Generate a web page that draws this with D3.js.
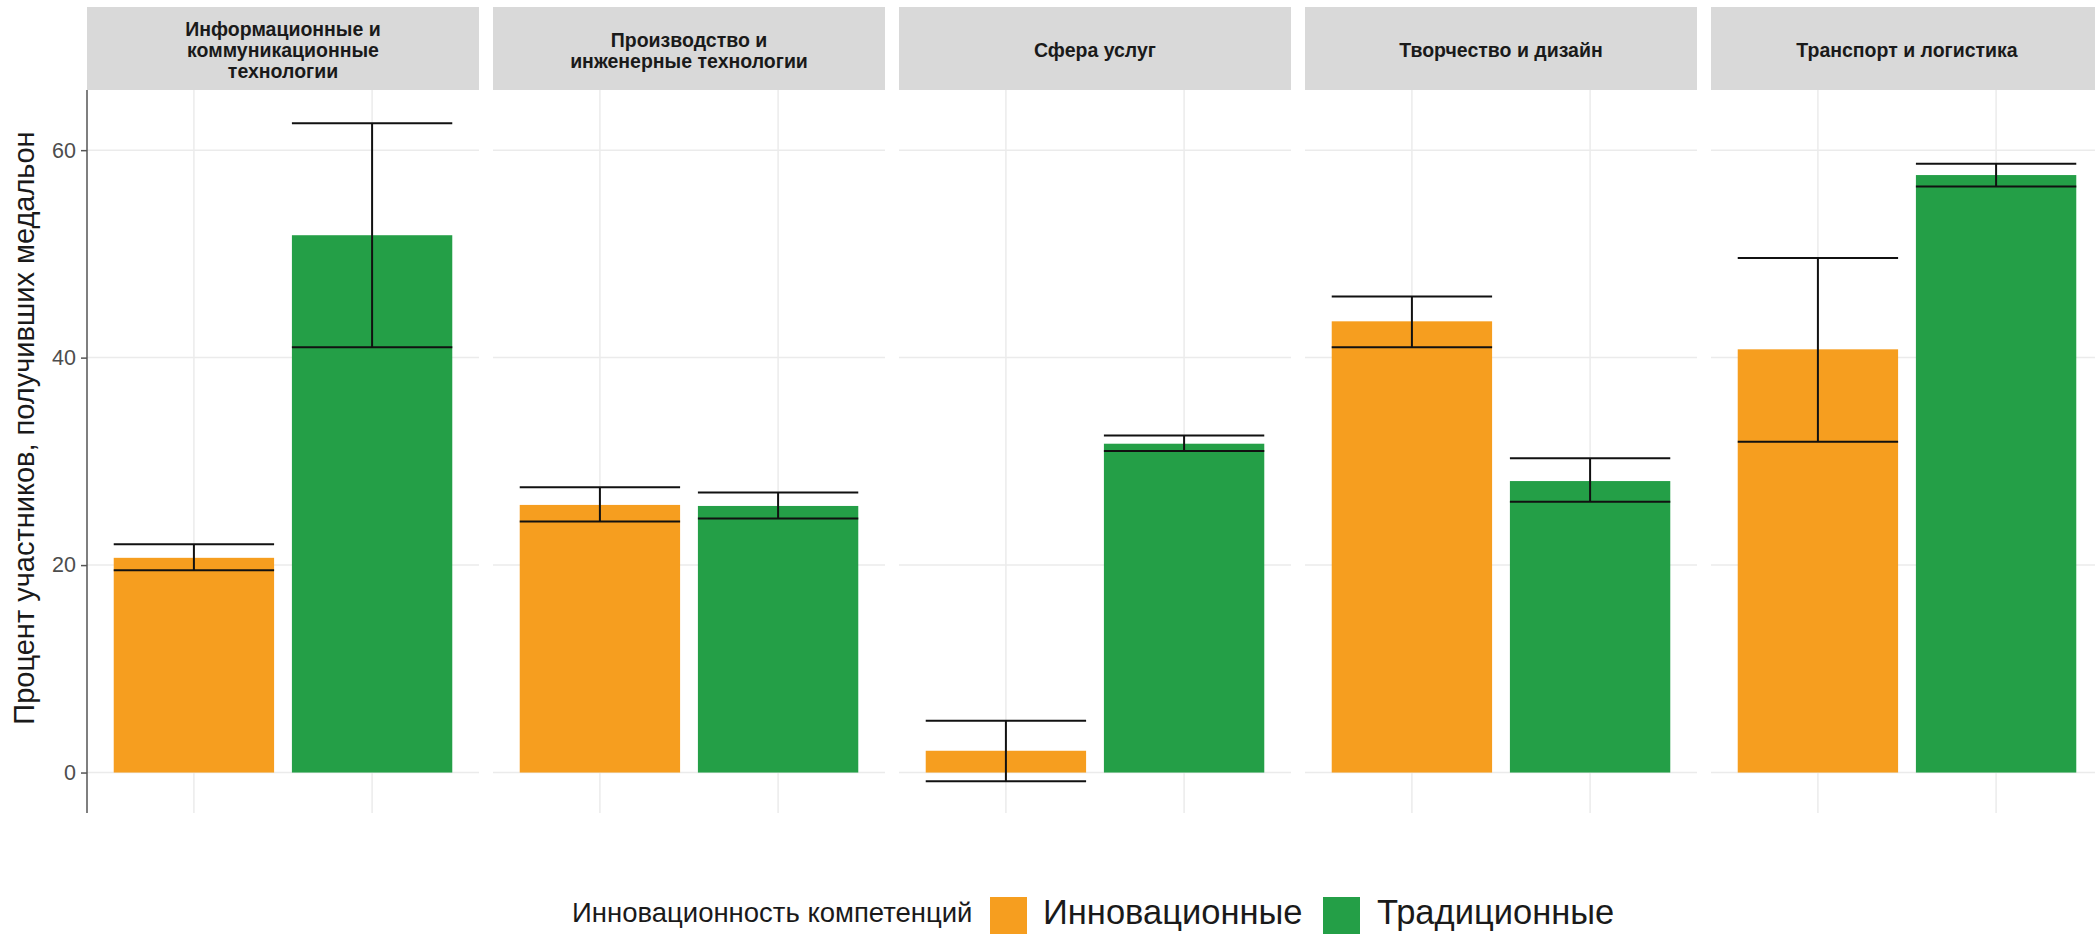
<!DOCTYPE html>
<html><head><meta charset="utf-8">
<script src="https://cdn.jsdelivr.net/npm/d3@7"></script>
<style>body{margin:0;background:#fff}svg{display:block;font-family:"Liberation Sans",Arial,sans-serif}</style>
</head><body>
<svg id="chart" width="2095" height="934"></svg>
<script>
const facets = ["ИКТ","Производство","Сфера услуг","Творчество","Транспорт"];
const facetLabels = [
  ["Информационные и","коммуникационные","технологии"],
  ["Производство и","инженерные технологии"],
  ["Сфера услуг"],
  ["Творчество и дизайн"],
  ["Транспорт и логистика"]
];
const groups = ["Инновационные","Традиционные"];
const colors = ["#F69E1F","#249F47"];
// values per facet: [Инновационные, Традиционные]
const values = [[20.7,51.8],[25.8,25.7],[2.1,31.7],[43.5,28.1],[40.8,57.6]];
const lower  = [[19.5,41.0],[24.2,24.5],[-0.85,31.0],[41.0,26.1],[31.9,56.5]];
const upper  = [[22.0,62.6],[27.5,27.0],[5.0,32.5],[45.9,30.3],[49.6,58.7]];
const yTicks = [0,20,40,60];
const legendTitle = "Инновационность компетенций";
const yTitle = "Процент участников, получивших медальон";

const svg = d3.select("#chart");
const panelTop = 90, panelBottom = 813, stripTop = 7;
const y = d3.scaleLinear().domain([-3.9, 65.8]).range([panelBottom, panelTop]);
const fx = d3.scaleBand().domain(facets).range([87, 2103]).paddingInner(14/406).paddingOuter(0);
const x = d3.scaleBand().domain(groups).range([0, fx.bandwidth()]).paddingInner(0.1).paddingOuter(0.15);

facets.forEach((f, i) => {
  const g = svg.append("g").attr("transform", `translate(${fx(f)},0)`);
  const w = fx.bandwidth();
  g.append("rect").attr("x",0).attr("y",stripTop).attr("width",w).attr("height",panelTop-stripTop).attr("fill","#d9d9d9");
  const lines = facetLabels[i];
  const cy = 50;
  lines.forEach((t, k) => {
    g.append("text").attr("x", w/2).attr("y", cy + (k-(lines.length-1)/2)*21)
      .attr("text-anchor","middle").attr("dominant-baseline","central")
      .attr("font-size",19.5).attr("font-weight","bold").attr("fill","#1a1a1a").text(t);
  });
  g.selectAll(".hg").data(yTicks).join("line")
    .attr("x1",0).attr("x2",w).attr("y1",d=>y(d)).attr("y2",d=>y(d))
    .attr("stroke","#ebebeb").attr("stroke-width",1.5);
  g.selectAll(".vg").data(groups).join("line")
    .attr("x1",d=>x(d)+x.bandwidth()/2).attr("x2",d=>x(d)+x.bandwidth()/2)
    .attr("y1",panelTop).attr("y2",panelBottom).attr("stroke","#ebebeb").attr("stroke-width",1.5);
  g.selectAll(".bar").data(groups).join("rect")
    .attr("x",d=>x(d)).attr("width",x.bandwidth())
    .attr("y",(d,j)=>y(Math.max(0,values[i][j])))
    .attr("height",(d,j)=>Math.abs(y(values[i][j])-y(0)))
    .attr("fill",(d,j)=>colors[j]);
  groups.forEach((gr, j) => {
    const x0 = x(gr), x1 = x(gr)+x.bandwidth(), xc = x(gr)+x.bandwidth()/2;
    const eb = g.append("g").attr("stroke","#111").attr("stroke-width",2);
    eb.append("line").attr("x1",x0).attr("x2",x1).attr("y1",y(upper[i][j])).attr("y2",y(upper[i][j]));
    eb.append("line").attr("x1",x0).attr("x2",x1).attr("y1",y(lower[i][j])).attr("y2",y(lower[i][j]));
    eb.append("line").attr("x1",xc).attr("x2",xc).attr("y1",y(upper[i][j])).attr("y2",y(lower[i][j]));
  });
});

const ax = svg.append("g").attr("transform","translate(87,0)")
  .call(d3.axisLeft(y).tickValues(yTicks).tickSize(6).tickPadding(5));
ax.select(".domain").attr("d", `M0,${panelTop}V${panelBottom}`).attr("stroke","#555").attr("stroke-width",1.5);
ax.selectAll(".tick line").attr("stroke","#555").attr("stroke-width",1.5);
ax.selectAll(".tick text").attr("font-size",21.5).attr("fill","#4d4d4d").attr("font-family","Liberation Sans, Arial, sans-serif");

svg.append("text").attr("transform",`translate(34,428) rotate(-90)`)
  .attr("text-anchor","middle").attr("font-size",29).attr("fill","#1a1a1a").text(yTitle);

const lg = svg.append("g");
lg.append("text").attr("x",572).attr("y",922).attr("font-size",27.5).attr("fill","#1a1a1a").text(legendTitle);
const keyX = [990, 1323], labX = [1043, 1377];
groups.forEach((gr, j) => {
  lg.append("rect").attr("x",keyX[j]).attr("y",897).attr("width",37).attr("height",40).attr("fill",colors[j]);
  lg.append("text").attr("x",labX[j]).attr("y",924).attr("font-size",34.5).attr("fill","#1a1a1a").text(gr);
});
</script>
</body></html>
